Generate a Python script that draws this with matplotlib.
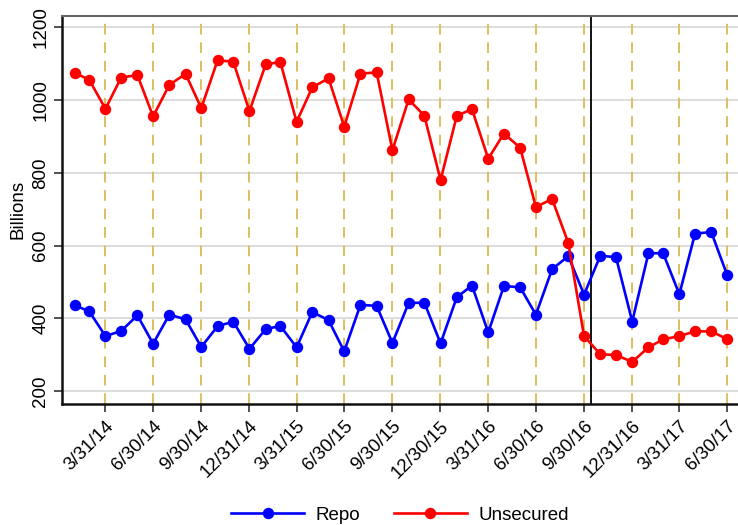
import pandas as pd
import matplotlib
matplotlib.use('Agg')
import matplotlib.pyplot as plt
import matplotlib.dates as mdates

plt.rcParams['font.family'] = ['Liberation Sans', 'DejaVu Sans']

# month-end observations, Jan 2014 - Jun 2017 (billions)
months = pd.date_range('2014-01-31', periods=42, freq='ME')

repo = [436, 419, 351, 365, 408, 330, 410, 397, 321, 378,
        391, 316, 370, 379, 320, 417, 395, 309, 437, 434,
        332, 442, 443, 331, 458, 490, 361, 489, 485, 410,
        535, 571, 465, 572, 568, 391, 579, 579, 466, 633,
        637, 520]

unsecured = [1075, 1056, 976, 1062, 1069, 955, 1042, 1072, 978, 1109,
             1106, 970, 1098, 1105, 940, 1035, 1060, 927, 1073, 1076,
             862, 1002, 957, 780, 957, 975, 839, 908, 869, 706,
             728, 607, 351, 301, 299, 280, 320, 342, 351, 364,
             364, 343]

quarter_labels = ['3/31/14', '6/30/14', '9/30/14', '12/31/14',
                  '3/31/15', '6/30/15', '9/30/15', '12/30/15',
                  '3/31/16', '6/30/16', '9/30/16', '12/31/16',
                  '3/31/17', '6/30/17']
quarter_dates = pd.to_datetime(quarter_labels, format='%m/%d/%y')

reform_date = pd.Timestamp('2016-10-14')
y_ticks = [200, 400, 600, 800, 1000, 1200]

fig = plt.figure(figsize=(7.38, 5.25), dpi=100)
ax = fig.add_axes([0.084, 0.231, 0.916, 0.739])

for y in y_ticks:
    ax.axhline(y, color='#dddddd', lw=1.4, zorder=0)
for d in quarter_dates:
    ax.axvline(d, color='#dcbf60', lw=1.4, dashes=(5.5, 4), zorder=1)
ax.axvline(reform_date, color='black', lw=1.3, zorder=2)

ax.plot(months, repo, color='#0000ff', lw=1.9, marker='o', ms=7.2,
        label='Repo', zorder=3)
ax.plot(months, unsecured, color='#ff0000', lw=1.9, marker='o', ms=7.2,
        label='Unsecured', zorder=3)

ax.set_xlim(pd.Timestamp('2014-01-07'), pd.Timestamp('2017-07-21'))
ax.set_ylim(165, 1232)

ax.set_xticks(quarter_dates)
ax.set_xticklabels(quarter_labels, rotation=45, ha='right',
                   rotation_mode='anchor', fontsize=13.5)
ax.set_yticks(y_ticks)
ax.set_yticklabels([str(v) for v in y_ticks], rotation=90, va='center',
                   fontsize=13.5)
ax.tick_params(axis='both', length=6, width=1.2, color='#333333')
ax.tick_params(axis='y', pad=3)
ax.tick_params(axis='x', pad=4)
ax.set_ylabel('Billions', fontsize=13.5, labelpad=4)

for side in ['left', 'bottom']:
    ax.spines[side].set_linewidth(1.8)
    ax.spines[side].set_color('#111111')
ax.spines['top'].set_color('#666666')
ax.spines['top'].set_linewidth(1.5)
ax.spines['right'].set_visible(False)

fig.legend(loc='center', bbox_to_anchor=(0.542, 0.019), ncol=2,
           frameon=False, fontsize=13.5, handlelength=3.9,
           handletextpad=0.6, columnspacing=1.8)

fig.savefig('out.png', dpi=100)
